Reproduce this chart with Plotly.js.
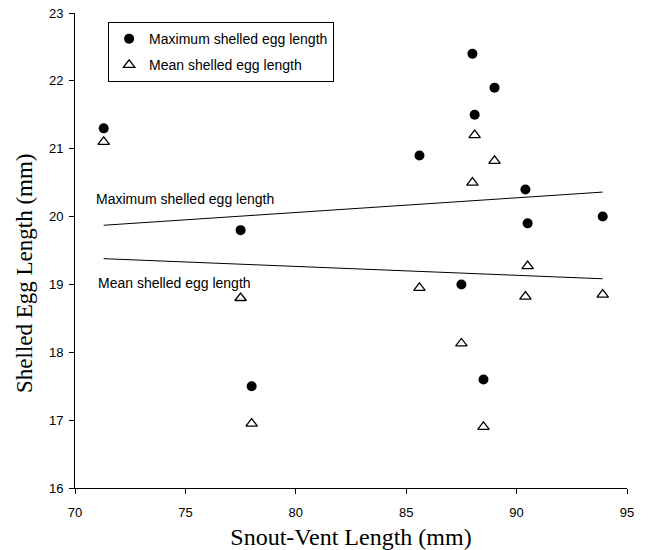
<!DOCTYPE html>
<html>
<head>
<meta charset="utf-8">
<script src="https://cdn.plot.ly/plotly-3.0.1.min.js"></script>
<style>html,body{margin:0;padding:0;background:#fff;}#chart{width:649px;height:550px;}</style>
</head>
<body>
<div id="chart"></div>
<script>
// Snout-vent length (mm) of each female
var svl = [71.3, 77.5, 78.0, 85.6, 87.5, 88.0, 88.1, 89.0, 88.5, 90.4, 90.5, 93.9];
// Maximum shelled egg length (mm)
var maxEgg = [21.3, 19.8, 17.5, 20.9, 19.0, 22.4, 21.5, 21.9, 17.6, 20.4, 19.9, 20.0];
// Mean shelled egg length (mm)
var meanEgg = [21.1, 18.8, 16.95, 18.95, 18.13, 20.5, 21.2, 20.82, 16.9, 18.82, 19.27, 18.85];

var seriesNames = ["Maximum shelled egg length", "Mean shelled egg length"];
var xTicks = [70, 75, 80, 85, 90, 95];
var yTicks = [16, 17, 18, 19, 20, 21, 22, 23];
var xTitle = "Snout-Vent Length (mm)";
var yTitle = "Shelled Egg Length (mm)";

function linfit(x, y) {
  var n = x.length, mx = 0, my = 0;
  for (var i = 0; i < n; i++) { mx += x[i]; my += y[i]; }
  mx /= n; my /= n;
  var sxy = 0, sxx = 0;
  for (var j = 0; j < n; j++) { sxy += (x[j]-mx)*(y[j]-my); sxx += (x[j]-mx)*(x[j]-mx); }
  var b = sxy / sxx;
  return {a: my - b*mx, b: b};
}
var xmin = Math.min.apply(null, svl), xmax = Math.max.apply(null, svl);
var fMax = linfit(svl, maxEgg), fMean = linfit(svl, meanEgg);

var sans = 'Liberation Sans, Arial, sans-serif';
var serif = 'Liberation Serif, Times New Roman, serif';

var traces = [
  {x: svl, y: maxEgg, mode: 'markers', type: 'scatter', name: seriesNames[0], legendgroup: 'max',
   marker: {symbol: 'circle', size: 10, color: '#000'}, cliponaxis: false},
  {x: svl, y: meanEgg, mode: 'markers', type: 'scatter', name: seriesNames[1], legendgroup: 'mean',
   marker: {symbol: 'triangle-up-open', size: 10, color: '#000', line: {width: 1.3, color: '#000'}}, cliponaxis: false},
  {x: [xmin, xmax], y: [fMax.a + fMax.b*xmin, fMax.a + fMax.b*xmax], mode: 'lines', type: 'scatter',
   line: {color: '#000', width: 1}, showlegend: false, hoverinfo: 'skip'},
  {x: [xmin, xmax], y: [fMean.a + fMean.b*xmin, fMean.a + fMean.b*xmax], mode: 'lines', type: 'scatter',
   line: {color: '#000', width: 1}, showlegend: false, hoverinfo: 'skip'}
];

var layout = {
  width: 649, height: 550,
  margin: {l: 75, r: 22, t: 13, b: 62},
  paper_bgcolor: '#fff', plot_bgcolor: '#fff',
  font: {family: sans, size: 13, color: '#000'},
  showlegend: true,
  legend: {x: 0.06, y: 0.981, xanchor: 'left', yanchor: 'top',
    bordercolor: '#000', borderwidth: 1, bgcolor: '#fff',
    font: {family: sans, size: 14, color: '#000'},
    itemwidth: 30, traceorder: 'grouped', tracegroupgap: 5},
  xaxis: {range: [70, 95], tickvals: xTicks, ticktext: xTicks.map(String),
    showgrid: false, zeroline: false, showline: true, linecolor: '#000', linewidth: 1,
    ticks: 'outside', ticklen: 5, tickcolor: '#000', ticklabelstandoff: 7,
    tickfont: {family: sans, size: 13, color: '#000'},
    title: {text: xTitle, standoff: 9,
      font: {family: serif, size: 24, color: '#000'}}},
  yaxis: {range: [16, 23], tickvals: yTicks, ticktext: yTicks.map(String),
    showgrid: false, zeroline: false, showline: true, linecolor: '#000', linewidth: 1,
    ticks: 'outside', ticklen: 5, tickcolor: '#000', ticklabelstandoff: 3,
    tickfont: {family: sans, size: 13, color: '#000'}},
  annotations: [
    {x: 70.88, y: 20.26, xref: 'x', yref: 'y', text: seriesNames[0], showarrow: false,
     xanchor: 'left', yanchor: 'middle', font: {family: sans, size: 14, color: '#000'}},
    {x: 70.97, y: 19.02, xref: 'x', yref: 'y', text: seriesNames[1], showarrow: false,
     xanchor: 'left', yanchor: 'middle', font: {family: sans, size: 14, color: '#000'}},
    {x: -0.0924, y: 0.4526, xref: 'paper', yref: 'paper', text: yTitle, showarrow: false,
     textangle: -90, xanchor: 'center', yanchor: 'middle',
     font: {family: serif, size: 23, color: '#000'}}
  ]
};

Plotly.newPlot('chart', traces, layout, {displayModeBar: false, staticPlot: true});
</script>
</body>
</html>
